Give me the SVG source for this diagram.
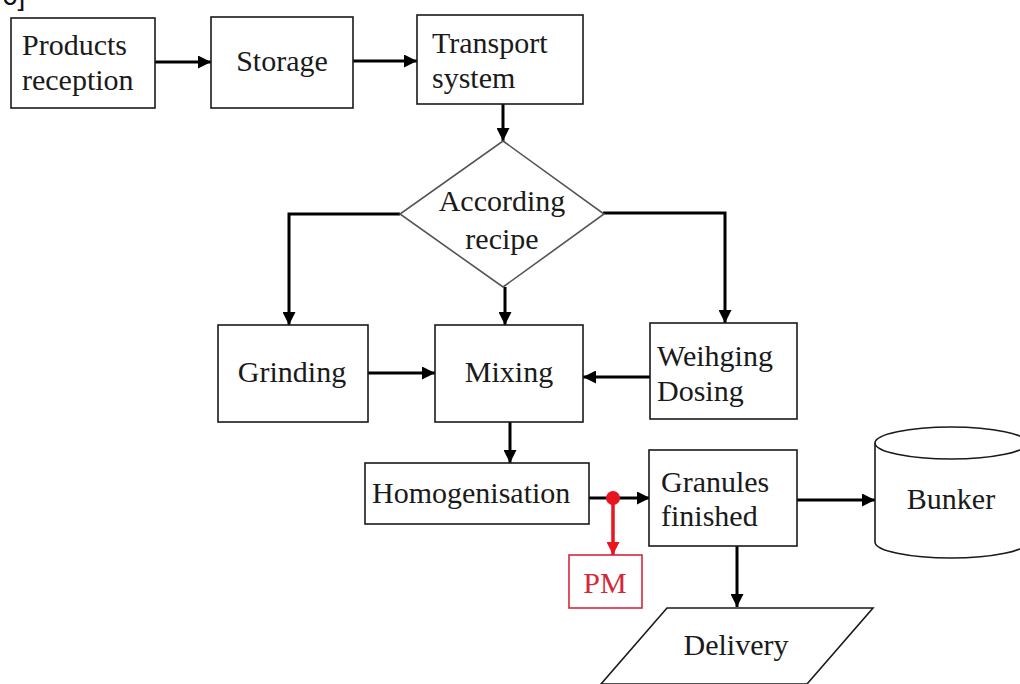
<svg xmlns="http://www.w3.org/2000/svg" width="1020" height="684" viewBox="0 0 1020 684">
<defs>
<style>
.box{fill:#fff;stroke:#1a1a1a;stroke-width:1.6}
.pm{fill:#fff;stroke:#d4283a;stroke-width:1.6}
.tr{fill:#d4283a}
.c{text-anchor:middle}
.conn{fill:none;stroke:#000;stroke-width:3;marker-end:url(#ah)}
.red{fill:none;stroke:#e8141e;stroke-width:3.5;marker-end:url(#ahr)}
</style>
<marker id="ah" viewBox="0 0 10 10" refX="10" refY="5" markerWidth="14" markerHeight="13" markerUnits="userSpaceOnUse" orient="auto">
<path d="M0,0 L10,5 L0,10 z" fill="#000"/>
</marker>
<marker id="ahr" viewBox="0 0 10 10" refX="10" refY="5" markerWidth="14" markerHeight="13" markerUnits="userSpaceOnUse" orient="auto">
<path d="M0,0 L10,5 L0,10 z" fill="#e8141e"/>
</marker>
</defs>
<rect width="1020" height="684" fill="#fff"/>
<text x="2" y="5" font-family="'Liberation Sans', Arial, sans-serif" font-size="28" fill="#111">6]</text>

<g id="connectors">
<line class="conn" x1="155" y1="62" x2="211" y2="62"/>
<line class="conn" x1="353" y1="61" x2="417" y2="61"/>
<line class="conn" x1="503" y1="104" x2="503" y2="141"/>
<polyline class="conn" points="400,214 289,214 289,325"/>
<polyline class="conn" points="603,213 725,213 725,323"/>
<line class="conn" x1="505" y1="287" x2="505" y2="325"/>
<line class="conn" x1="368" y1="373" x2="435" y2="373"/>
<line class="conn" x1="650" y1="377" x2="583" y2="377"/>
<line class="conn" x1="510" y1="422" x2="510" y2="463"/>
<line class="conn" x1="589" y1="498" x2="650" y2="498"/>
<line class="conn" x1="797" y1="500" x2="875" y2="500"/>
<line class="conn" x1="737" y1="546" x2="737" y2="607"/>
<line class="red" x1="613" y1="498" x2="613" y2="555"/>
<circle cx="613" cy="498" r="7" fill="#e8141e"/>
</g>

<g font-family="'Liberation Serif', 'Times New Roman', 'DejaVu Serif', serif" font-size="30" fill="#1a1a1a">
<g id="products">
<rect class="box" x="11" y="18" width="144" height="90"/>
<text x="22" y="55">Products</text>
<text x="22" y="90">reception</text>
</g>
<g id="storage">
<rect class="box" x="211" y="17" width="142" height="91"/>
<text class="c" x="282" y="71">Storage</text>
</g>
<g id="transport">
<rect class="box" x="417" y="15" width="166" height="89"/>
<text x="432" y="53">Transport</text>
<text x="432" y="88">system</text>
</g>
<g id="recipe">
<polygon points="503,141 604,214 503,287 400,214" fill="#fff" stroke="#555" stroke-width="1.6"/>
<text class="c" x="502" y="211">According</text>
<text class="c" x="502" y="249">recipe</text>
</g>
<g id="grinding">
<rect class="box" x="218" y="325" width="150" height="97"/>
<text class="c" x="292" y="382">Grinding</text>
</g>
<g id="mixing">
<rect class="box" x="435" y="325" width="148" height="97"/>
<text class="c" x="509" y="382">Mixing</text>
</g>
<g id="weighing">
<rect class="box" x="650" y="323" width="147" height="96"/>
<text x="657" y="366">Weihging</text>
<text x="657" y="401">Dosing</text>
</g>
<g id="homogenisation">
<rect class="box" x="365" y="463" width="224" height="61"/>
<text x="372" y="503">Homogenisation</text>
</g>
<g id="pm">
<rect class="pm" x="569" y="555" width="73" height="53"/>
<text class="c tr" x="605" y="593">PM</text>
</g>
<g id="granules">
<rect class="box" x="649" y="450" width="148" height="96"/>
<text x="661" y="492">Granules</text>
<text x="661" y="526">finished</text>
</g>
<g id="bunker">
<path d="M875,443 L875,542 A76,16 0 0 0 1027,542 L1027,443" fill="#fff" stroke="#1a1a1a" stroke-width="1.6"/>
<ellipse cx="951" cy="443" rx="76" ry="16" fill="#fff" stroke="#1a1a1a" stroke-width="1.6"/>
<text class="c" x="951" y="509">Bunker</text>
</g>
<g id="delivery">
<polygon points="667,608 873,608 807,684 601,684" fill="#fff" stroke="#1a1a1a" stroke-width="1.6"/>
<text class="c" x="736" y="655">Delivery</text>
</g>
</g>
</svg>
